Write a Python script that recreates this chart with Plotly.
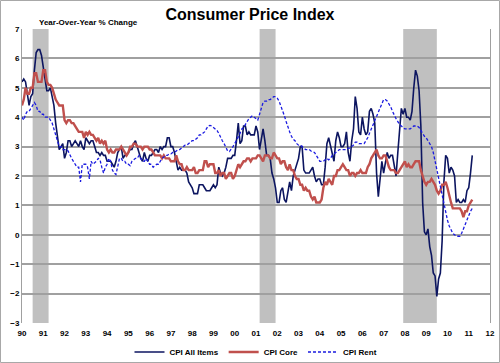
import plotly.graph_objects as go

# ---------------- data (monthly, Jan 1990 - Mar 2011) ----------------
start_year = 1990

cpi_all_items = [
    5.2, 5.3, 5.2, 4.7, 4.4, 4.7, 4.8, 5.6, 6.2, 6.3, 6.3, 6.1,   # 1990
    5.7, 5.3, 4.9, 4.9, 5.0, 4.7, 4.4, 3.8, 3.4, 2.9, 3.0, 3.1,   # 1991
    2.6, 2.8, 3.2, 3.2, 3.0, 3.1, 3.2, 3.1, 3.0, 3.2, 3.0, 2.9,   # 1992
    3.3, 3.2, 3.1, 3.2, 3.2, 3.0, 2.8, 2.8, 2.7, 2.8, 2.7, 2.7,   # 1993
    2.5, 2.5, 2.5, 2.4, 2.3, 2.5, 2.8, 2.9, 3.0, 2.6, 2.7, 2.7,   # 1994
    2.8, 2.9, 2.9, 3.1, 3.2, 3.0, 2.8, 2.6, 2.5, 2.8, 2.6, 2.5,   # 1995
    2.7, 2.7, 2.8, 2.9, 2.9, 2.8, 3.0, 2.9, 3.0, 3.0, 3.3, 3.3,   # 1996
    3.0, 3.0, 2.8, 2.5, 2.2, 2.3, 2.2, 2.2, 2.2, 2.1, 1.8, 1.7,   # 1997
    1.6, 1.4, 1.4, 1.4, 1.7, 1.7, 1.7, 1.6, 1.5, 1.5, 1.5, 1.6,   # 1998
    1.7, 1.6, 1.7, 2.3, 2.1, 2.0, 2.1, 2.3, 2.6, 2.6, 2.6, 2.7,   # 1999
    2.7, 3.2, 3.8, 3.1, 3.2, 3.7, 3.7, 3.4, 3.5, 3.4, 3.4, 3.4,   # 2000
    3.7, 3.5, 2.9, 3.3, 3.6, 3.2, 2.7, 2.7, 2.6, 2.1, 1.9, 1.6,   # 2001
    1.1, 1.1, 1.5, 1.6, 1.2, 1.1, 1.5, 1.8, 1.5, 2.0, 2.2, 2.4,   # 2002
    2.6, 3.0, 3.0, 2.2, 2.1, 2.1, 2.1, 2.2, 2.3, 2.0, 1.8, 1.9,   # 2003
    1.9, 1.7, 1.7, 2.3, 3.1, 3.3, 3.0, 2.7, 2.5, 3.2, 3.5, 3.3,   # 2004
    3.0, 3.0, 3.1, 3.5, 2.8, 2.5, 3.2, 3.6, 4.7, 4.3, 3.5, 3.4,   # 2005
    4.0, 3.6, 3.4, 3.5, 4.2, 4.3, 4.1, 3.8, 2.1, 1.3, 2.0, 2.5,   # 2006
    2.1, 2.4, 2.8, 2.6, 2.7, 2.7, 2.4, 2.0, 2.8, 3.5, 4.3, 4.1,   # 2007
    4.3, 4.0, 4.0, 3.9, 4.2, 5.0, 5.6, 5.4, 4.9, 3.7, 1.1, 0.1,   # 2008
    0.0, 0.2, -0.4, -0.7, -1.3, -1.4, -2.1, -1.5, -1.3, -0.2, 1.8, 2.7,  # 2009
    2.6, 2.1, 2.3, 2.2, 2.0, 1.1, 1.2, 1.1, 1.1, 1.2, 1.1, 1.5,   # 2010
    1.6, 2.1, 2.7,                                                # 2011
]

cpi_core = [
    4.4, 4.6, 5.0, 4.8, 4.8, 5.0, 5.0, 5.5, 5.5, 5.2, 5.2, 5.2,   # 1990
    5.6, 5.6, 5.2, 5.1, 5.1, 5.0, 4.8, 4.6, 4.5, 4.4, 4.4, 4.4,   # 1991
    3.9, 3.8, 3.9, 3.9, 3.8, 3.8, 3.7, 3.6, 3.5, 3.5, 3.5, 3.3,   # 1992
    3.5, 3.4, 3.5, 3.4, 3.4, 3.3, 3.2, 3.3, 3.1, 3.2, 3.1, 3.2,   # 1993
    2.9, 2.8, 2.9, 2.8, 2.8, 2.9, 2.9, 2.9, 3.0, 2.9, 2.8, 2.7,   # 1994
    2.8, 3.0, 3.0, 3.1, 3.1, 3.0, 3.0, 3.0, 2.9, 3.0, 3.0, 3.0,   # 1995
    2.9, 2.9, 2.8, 2.7, 2.7, 2.7, 2.7, 2.6, 2.7, 2.6, 2.6, 2.6,   # 1996
    2.5, 2.5, 2.5, 2.7, 2.5, 2.4, 2.4, 2.2, 2.2, 2.3, 2.2, 2.2,   # 1997
    2.2, 2.3, 2.1, 2.1, 2.2, 2.2, 2.2, 2.5, 2.5, 2.3, 2.4, 2.4,   # 1998
    2.4, 2.1, 2.1, 2.2, 2.0, 2.1, 2.1, 1.9, 2.0, 2.1, 2.1, 1.9,   # 1999
    2.0, 2.2, 2.4, 2.3, 2.4, 2.5, 2.5, 2.6, 2.6, 2.5, 2.6, 2.6,   # 2000
    2.6, 2.7, 2.7, 2.6, 2.5, 2.7, 2.7, 2.7, 2.6, 2.6, 2.8, 2.7,   # 2001
    2.6, 2.6, 2.4, 2.5, 2.5, 2.3, 2.2, 2.4, 2.2, 2.2, 2.0, 1.9,   # 2002
    1.9, 1.7, 1.7, 1.5, 1.6, 1.5, 1.5, 1.3, 1.2, 1.3, 1.1, 1.1,   # 2003
    1.1, 1.2, 1.6, 1.8, 1.7, 1.9, 1.8, 1.7, 2.0, 2.0, 2.2, 2.2,   # 2004
    2.3, 2.4, 2.3, 2.2, 2.2, 2.0, 2.1, 2.1, 2.0, 2.1, 2.1, 2.2,   # 2005
    2.1, 2.1, 2.1, 2.3, 2.4, 2.6, 2.7, 2.8, 2.9, 2.7, 2.6, 2.6,   # 2006
    2.7, 2.7, 2.5, 2.3, 2.2, 2.2, 2.2, 2.1, 2.1, 2.2, 2.3, 2.4,   # 2007
    2.5, 2.3, 2.4, 2.3, 2.3, 2.4, 2.5, 2.5, 2.5, 2.2, 2.0, 1.8,   # 2008
    1.7, 1.8, 1.8, 1.9, 1.8, 1.7, 1.5, 1.4, 1.5, 1.7, 1.7, 1.8,   # 2009
    1.6, 1.3, 1.1, 0.9, 0.9, 0.9, 0.9, 0.9, 0.8, 0.6, 0.8, 0.8,   # 2010
    1.0, 1.1, 1.2,                                                # 2011
]

cpi_rent = [
    4.0, 3.9, 4.1, 4.2, 4.2, 4.3, 4.4, 4.5, 4.4, 4.2, 4.2, 4.1,   # 1990
    4.1, 4.0, 4.0, 4.0, 3.9, 3.8, 3.6, 3.4, 3.2, 3.0, 3.0, 2.9,   # 1991
    2.9, 2.9, 2.85, 2.7, 2.6, 2.5, 2.4, 2.3, 2.3, 1.8, 2.4, 2.4,  # 1992
    2.4, 2.3, 1.9, 2.5, 2.4, 2.45, 2.5, 2.6, 2.55, 2.3, 2.1, 2.3, # 1993
    2.4, 2.6, 2.5, 2.2, 2.1, 2.05, 2.4, 2.6, 2.6, 2.5, 2.5, 2.4,  # 1994
    2.4, 2.35, 2.5, 2.55, 2.6, 2.6, 2.7, 2.6, 2.5, 2.5, 2.6, 2.5, # 1995
    2.4, 2.4, 2.3, 2.35, 2.4, 2.4, 2.5, 2.6, 2.65, 2.7, 2.7, 2.75,  # 1996
    2.75, 2.8, 2.8, 2.85, 2.9, 2.9, 2.95, 3.0, 3.05, 3.05, 3.1, 3.15,  # 1997
    3.2, 3.2, 3.25, 3.3, 3.4, 3.4, 3.45, 3.5, 3.6, 3.7, 3.72, 3.7,  # 1998
    3.65, 3.6, 3.55, 3.45, 3.3, 3.2, 3.1, 2.95, 2.85, 2.83, 2.9, 3.0,  # 1999
    3.1, 3.2, 3.3, 3.45, 3.6, 3.65, 3.75, 3.85, 3.95, 4.0, 4.05, 4.0,  # 2000
    3.95, 3.9, 4.1, 4.3, 4.5, 4.55, 4.55, 4.6, 4.6, 4.65, 4.7, 4.7,    # 2001
    4.65, 4.55, 4.4, 4.2, 4.05, 3.85, 3.65, 3.5, 3.35, 3.25, 3.2, 3.1, # 2002
    3.05, 3.05, 3.0, 2.95, 2.9, 2.9, 2.9, 2.85, 2.83, 2.8, 2.7, 2.6,   # 2003
    2.5, 2.5, 2.5, 2.55, 2.6, 2.55, 2.6, 2.7, 2.75, 2.8, 2.85, 2.9,    # 2004
    2.9, 2.9, 2.9, 2.9, 2.95, 2.95, 3.0, 3.05, 3.15, 3.15, 3.1, 3.1,   # 2005
    3.1, 3.1, 3.2, 3.3, 3.45, 3.6, 3.75, 3.9, 4.05, 4.2, 4.35, 4.5,    # 2006
    4.6, 4.6, 4.55, 4.45, 4.35, 4.2, 4.05, 3.95, 3.85, 3.75, 3.7, 3.65,  # 2007
    3.6, 3.6, 3.6, 3.6, 3.65, 3.7, 3.7, 3.7, 3.65, 3.55, 3.45, 3.35,   # 2008
    3.3, 3.2, 3.1, 3.0, 2.8, 2.5, 2.2, 1.9, 1.6, 1.3, 1.0, 0.75,       # 2009
    0.5, 0.3, 0.15, 0.05, 0.0, -0.05, -0.05, -0.05, 0.05, 0.2, 0.35, 0.55,  # 2010
    0.7, 0.8, 0.9,                                                     # 2011
]

# recession periods (start, end) in decimal years
recessions = [(1990.5, 1991.25), (2001.17, 2001.92), (2007.92, 2009.5)]

year_ticks = list(range(1990, 2013))
year_labels = ["90", "91", "92", "93", "94", "95", "96", "97", "98", "99",
               "00", "01", "02", "03", "04", "05", "06", "07", "08", "09",
               "10", "11", "12"]

# ---------------- figure ----------------
dates = [start_year + i / 12 for i in range(len(cpi_all_items))]

FONT = "Arial, Liberation Sans, sans-serif"

fig = go.Figure()
fig.add_trace(go.Scatter(x=dates, y=cpi_all_items, mode="lines", name="CPI All Items",
                         line=dict(color="#0c1560", width=1.6)))
fig.add_trace(go.Scatter(x=dates, y=cpi_core, mode="lines", name="CPI Core",
                         line=dict(color="#c0504d", width=2.4)))
fig.add_trace(go.Scatter(x=dates, y=cpi_rent, mode="lines", name="CPI Rent",
                         line=dict(color="#1a1ae0", width=1.3, dash="3px,2px")))

L, R, T, B = 22, 10, 29, 40
W, H = 500, 363
pw, ph = W - L - R, H - T - B

shapes = []
for s, e in recessions:
    shapes.append(dict(type="rect", xref="x", yref="paper", x0=s, x1=e, y0=0, y1=1,
                       fillcolor="#c0c0c0", line=dict(width=0), layer="between"))
# zero line
shapes.append(dict(type="line", xref="paper", yref="y", x0=0, x1=1, y0=0, y1=0,
                   line=dict(color="black", width=1.5), layer="between"))
# outer chart border
shapes.append(dict(type="rect", xref="paper", yref="paper",
                   x0=(0.5 - L) / pw, x1=(W - 0.5 - L) / pw,
                   y0=-(B - 0.5) / ph, y1=(H - B - 0.5) / ph,
                   line=dict(color="#a8a8a8", width=1), fillcolor="rgba(0,0,0,0)",
                   layer="above"))

fig.update_layout(
    width=W, height=H,
    margin=dict(l=L, r=R, t=T, b=B, autoexpand=False),
    paper_bgcolor="white", plot_bgcolor="white",
    font=dict(family=FONT, color="black"),
    title=dict(text="Consumer Price Index", x=0.5, xanchor="center",
               y=1 - 14 / H, yanchor="middle",
               font=dict(family=FONT, size=16, weight="bold", color="black")),
    shapes=shapes,
    showlegend=True,
    legend=dict(orientation="h", x=0.5, xanchor="center", y=-(352 - (H - B)) / ph,
                yanchor="middle", font=dict(family=FONT, size=8, weight="bold"),
                itemwidth=30, bgcolor="rgba(0,0,0,0)", tracegroupgap=0),
    annotations=[dict(text="Year-Over-Year % Change", xref="paper", yref="paper",
                      x=(88 - L) / pw, y=1 + (T - 22) / ph, xanchor="center", yanchor="middle",
                      showarrow=False, font=dict(family=FONT, size=8, weight="bold"))],
)

fig.update_xaxes(range=[1990, 2012], tickvals=year_ticks, ticktext=year_labels,
                 showgrid=False, zeroline=False, showline=False, automargin=False,
                 ticks="", ticklabelstandoff=4,
                 tickfont=dict(family=FONT, size=8, weight="bold"))
fig.update_yaxes(range=[-3, 7], dtick=1, tick0=0, showgrid=True, gridcolor="#a0a0a0",
                 gridwidth=1.5, zeroline=False, showline=True, linecolor="#a0a0a0",
                 linewidth=1, mirror=True, ticks="", automargin=False,
                 tickfont=dict(family=FONT, size=8, weight="bold"))

fig.write_html("out.html", config={"displayModeBar": False},
               post_script="document.body.style.margin='0';document.body.style.overflow='hidden';")
